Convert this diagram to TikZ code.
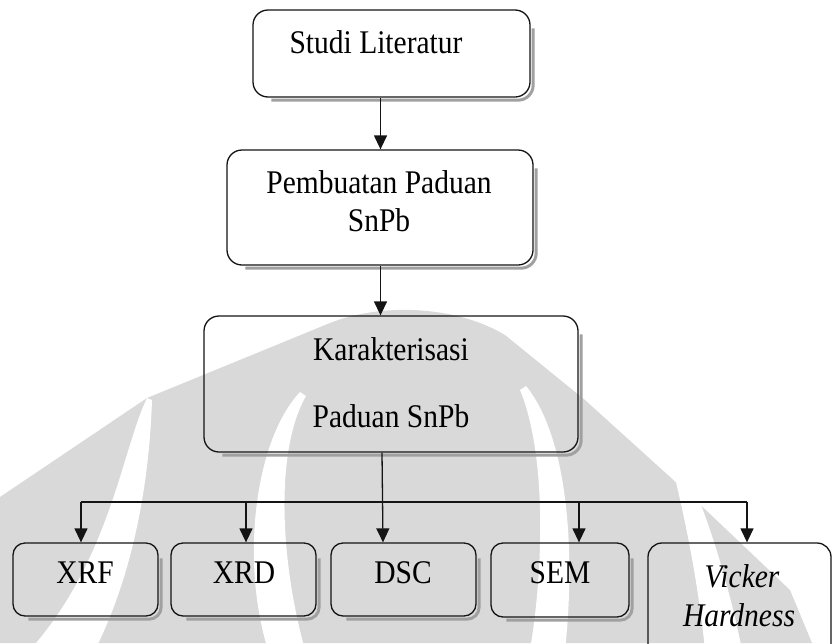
\documentclass[tikz,border=0pt]{standalone}
\usepackage{fontspec}
\setmainfont{Liberation Serif}
\usetikzlibrary{arrows.meta,calc}
\definecolor{wm}{RGB}{217,217,217}
\definecolor{shadowgray}{RGB}{160,160,160}
\definecolor{ink}{RGB}{20,20,20}
\tikzset{
  box/.style={draw=ink, line width=1.3pt, rounded corners=#1, inner sep=0pt},
  box/.default=15pt,
  lbl/.style={font=\fontsize{29.5}{40}\selectfont, anchor=base, inner sep=0pt, align=center},
  conn/.style={draw=ink, line width=1.3pt},
  arr/.style={conn, -{Triangle[width=13pt,length=14pt]}},
  shad/.style={draw=shadowgray, line width=3pt},
}
\newcommand{\shadowfor}[2]{%
  \draw[shad, rounded corners=#2] ($(#1.north east)+(2.5pt,-#2-4pt)$) |- ($(#1.south west)+(#2+4pt,-2.5pt)$);}
\newcommand{\tall}[1]{\scalebox{1}[1.12]{#1}}
\begin{document}
\begin{tikzpicture}[x=1pt,y=-1pt]
\useasboundingbox (0,0) rectangle (832,643);
\clip (0,0) rectangle (832,643);
% ---- watermark ----
\fill[wm] (0,497) -- (147,398) -- (330,323) .. controls (380,303) and (455,305) .. (505,335)
  -- (585,400) -- (690,495) -- (790,590) -- (812,643) -- (0,643) -- cycle;
\fill[white] (147,398) .. controls (122,450) and (110,560) .. (30,650)
  -- (95,650) .. controls (140,560) and (150,460) .. (152,400) -- cycle;
\fill[white] (300,392) .. controls (255,440) and (240,560) .. (268,650)
  -- (305,650) .. controls (280,560) and (275,450) .. (306,396) -- cycle;
\fill[white] (526,386) .. controls (570,440) and (575,560) .. (565,650)
  -- (530,650) .. controls (545,560) and (545,450) .. (520,390) -- cycle;
\fill[white] (675,478) .. controls (690,540) and (700,600) .. (705,650)
  -- (742,650) .. controls (730,590) and (712,530) .. (692,482) -- cycle;
% ---- boxes ----
\node[box, minimum width=277pt, minimum height=87pt] (studi) at (391.5,53.5) {};
\node[box, minimum width=306pt, minimum height=115pt] (pemb) at (380,207.5) {};
\node[box, minimum width=374pt, minimum height=136pt] (kar) at (391,384) {};
\node[box=12pt, minimum width=145pt, minimum height=73pt] (xrf) at (85.5,579.5) {};
\node[box=12pt, minimum width=145pt, minimum height=73pt] (xrd) at (243.5,579.5) {};
\node[box=12pt, minimum width=145pt, minimum height=73pt] (dsc) at (403.5,579.5) {};
\node[box=12pt, minimum width=138pt, minimum height=74pt] (sem) at (560,580) {};
\node[box=14pt, minimum width=183pt, minimum height=127pt] (vick) at (739.5,606.5) {};
\shadowfor{studi}{15pt}
\shadowfor{pemb}{15pt}
\shadowfor{kar}{15pt}
\shadowfor{xrf}{12pt}
\shadowfor{xrd}{12pt}
\shadowfor{dsc}{12pt}
\shadowfor{sem}{12pt}
% ---- texts ----
\node[lbl] (studiT) at (376,53) {\tall{Studi Literatur}};
\node[lbl] (pembT1) at (379,193) {\tall{Pembuatan Paduan}};
\node[lbl] (pembT2) at (379,231) {\tall{SnPb}};
\node[lbl] (karT1) at (391,360) {\tall{Karakterisasi}};
\node[lbl] (karT2) at (391,427) {\tall{Paduan SnPb}};
\node[lbl] (xrfT) at (85,583) {\tall{XRF}};
\node[lbl] (xrdT) at (244,583) {\tall{XRD}};
\node[lbl] (dscT) at (403,583) {\tall{DSC}};
\node[lbl] (semT) at (560,583) {\tall{SEM}};
\node[lbl] (vickT1) at (742,587) {\tall{\itshape Vicker}};
\node[lbl] (vickT2) at (739,626) {\tall{\itshape Hardness}};
% ---- connectors ----
\coordinate (ax) at (380.5,0);
\coordinate (kx) at (382,0);
\coordinate (dx) at (383,0);
\draw[arr] (studi.south -| ax) -- (pemb.north -| ax);
\draw[arr] (pemb.south -| ax) -- (kar.north -| ax);
\draw[arr] (kar.south -| kx) -- (dsc.north -| dx);
\coordinate (bL) at (81,502);
\coordinate (bXRD) at (246,502);
\coordinate (bSEM) at (579,502);
\coordinate (bR) at (747,502);
\draw[conn] (bL) -- (bR);
\draw[arr] (bL) -- (bL |- xrf.north);
\draw[arr] (bXRD) -- (bXRD |- xrd.north);
\draw[arr] (bSEM) -- (bSEM |- sem.north);
\draw[arr] (bR) -- (bR |- vick.north);
\end{tikzpicture}
\end{document}
